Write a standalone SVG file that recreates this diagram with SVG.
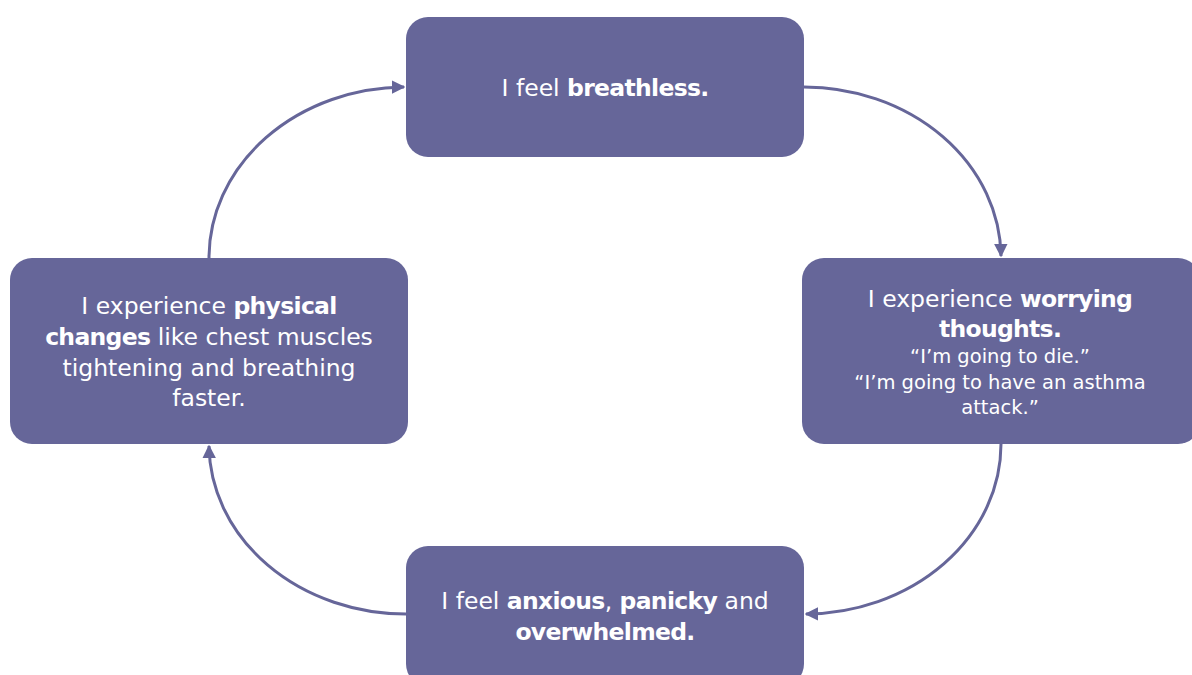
<svg xmlns="http://www.w3.org/2000/svg" width="1192" height="675" viewBox="0 0 1192 675">
<defs>
<style>
.box{fill:#666699;}
.t{font-family:"DejaVu Sans","Liberation Sans",sans-serif;font-size:23.5px;fill:#ffffff;text-anchor:middle;}
.s{font-size:19.5px;}
.b{font-weight:bold;letter-spacing:-0.7px;}
.c{fill:none;stroke:#666699;stroke-width:3;}
</style>
<marker id="ah" viewBox="0 0 10 10" refX="9" refY="5" markerWidth="4.5" markerHeight="4.5" orient="auto" markerUnits="strokeWidth">
<path d="M0,0 L10,5 L0,10 z" fill="#666699"/>
</marker>
</defs>
<rect width="1192" height="675" fill="#ffffff"/>
<g id="connectors">
<path class="c" d="M804,87 A197,171 0 0 1 1001,256" marker-end="url(#ah)"/>
<path class="c" d="M1001,444 A197,170 0 0 1 806,614" marker-end="url(#ah)"/>
<path class="c" d="M406,614 A197,170 0 0 1 209,446" marker-end="url(#ah)"/>
<path class="c" d="M209,258 A197,171 0 0 1 404,87" marker-end="url(#ah)"/>
</g>
<g id="n-breathless">
<rect class="box" x="406" y="17" width="398" height="140" rx="22"/>
<text class="t" x="605" y="96">I feel <tspan class="b">breathless.</tspan></text>
</g>
<g id="n-thoughts">
<rect class="box" x="802" y="258" width="398" height="186" rx="22"/>
<text class="t" x="1000" y="307">I experience <tspan class="b">worrying</tspan></text>
<text class="t b" x="1000" y="337">thoughts.</text>
<text class="t s" x="1000" y="363">“I’m going to die.”</text>
<text class="t s" x="1000" y="389">“I’m going to have an asthma</text>
<text class="t s" x="1000" y="414">attack.”</text>
</g>
<g id="n-feelings">
<rect class="box" x="406" y="546" width="398" height="140" rx="22"/>
<text class="t" x="605" y="609">I feel <tspan class="b">anxious</tspan>, <tspan class="b">panicky</tspan> and</text>
<text class="t b" x="605" y="640">overwhelmed.</text>
</g>
<g id="n-physical">
<rect class="box" x="10" y="258" width="398" height="186" rx="22"/>
<text class="t" x="209" y="314">I experience <tspan class="b">physical</tspan></text>
<text class="t" x="209" y="345"><tspan class="b">changes</tspan> like chest muscles</text>
<text class="t" x="209" y="376">tightening and breathing</text>
<text class="t" x="209" y="406">faster.</text>
</g>
</svg>
